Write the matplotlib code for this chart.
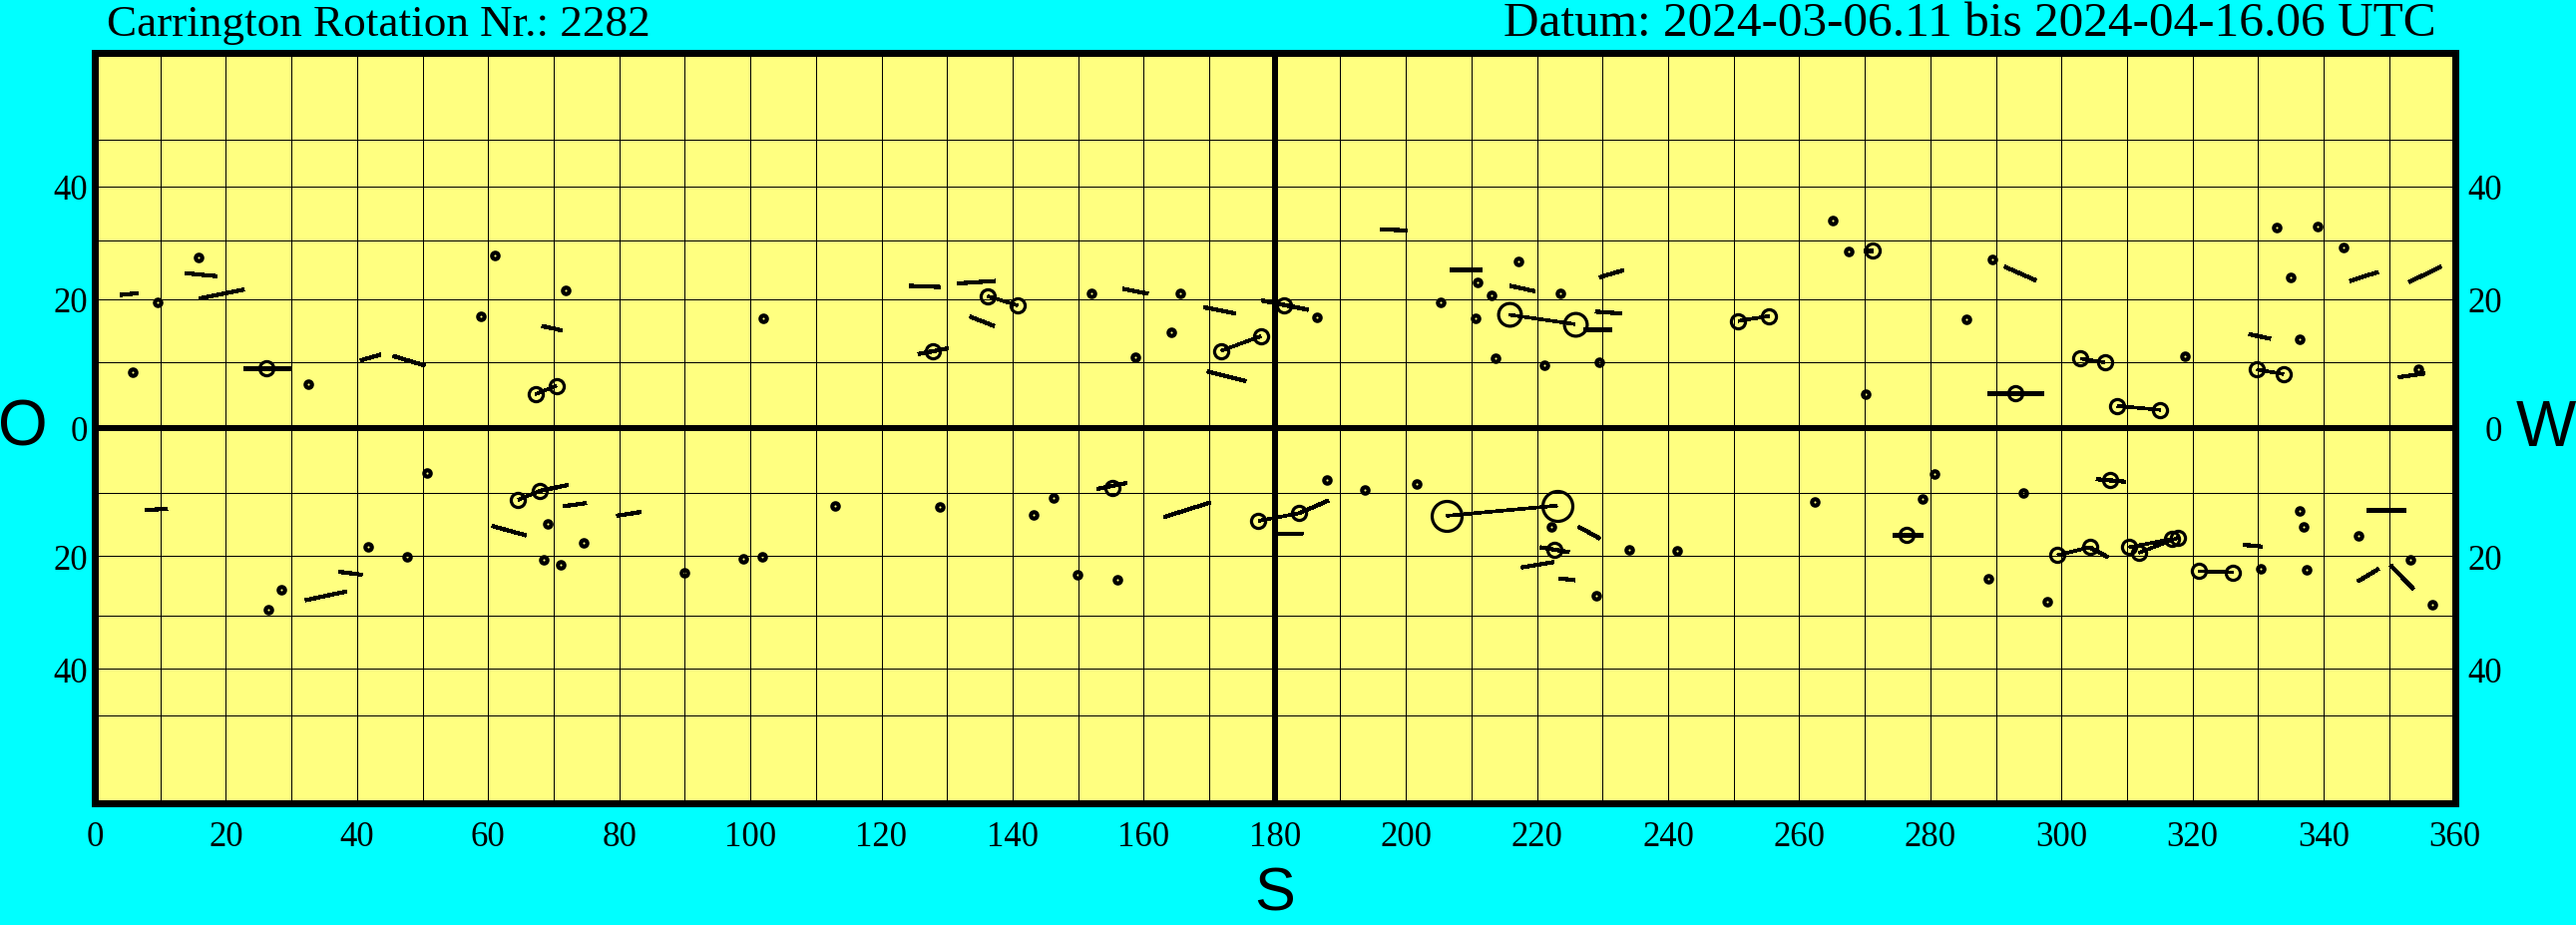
import matplotlib
matplotlib.use("Agg")
import matplotlib.pyplot as plt
import numpy as np

# --- data (Carrington longitude, heliographic latitude) ---
# single small spots
spot_lon = [15.8, 9.6, 58.9, 5.8, 32.5, 50.7, 41.7, 47.6, 28.4, 26.5,
            61.0, 71.9, 102.0, 69.1, 74.6, 68.5, 71.1, 89.9, 98.9, 101.8, 112.9,
            152.1, 165.6, 164.2, 158.8, 128.9, 146.2, 143.2, 149.9, 156.0,
            186.4, 217.2, 210.9, 205.3, 213.1, 210.6, 223.5, 213.7, 221.1, 229.5,
            187.9, 193.8, 201.7, 222.2, 234.1, 229.0,
            265.1, 267.5, 289.5, 285.5, 270.1, 280.7, 278.8, 262.3, 294.2, 241.3,
            288.8, 297.8,
            332.9, 339.0, 343.0, 335.0, 318.8, 336.4, 354.5, 336.3, 336.9, 345.3,
            330.4, 337.4, 353.2, 356.6]
spot_lat = [27.0, 19.5, 17.3, 8.5, 6.7, -6.9, -18.5, -20.1, -25.6, -29.1,
            27.3, 21.4, 16.9, -14.9, -17.9, -20.7, -21.4, -22.7, -20.5, -20.2, -12.0,
            20.9, 20.9, 14.7, 10.8, -12.2, -10.8, -13.5, -23.1, -24.0,
            17.1, 26.2, 22.8, 19.5, 20.7, 17.0, 20.9, 10.6, 9.5, 10.0,
            -8.1, -9.5, -8.6, -15.4, -19.0, -26.6,
            33.5, 28.0, 26.6, 16.7, 5.1, -7.1, -10.9, -11.5, -10.1, -19.1,
            -23.7, -27.6,
            32.2, 32.4, 28.7, 23.6, 10.9, 13.6, 8.9, -12.9, -15.3, -16.7,
            -22.1, -22.3, -20.6, -28.1]

# group extents drawn as thick bars: start lon/lat, end lon/lat
seg_lon0 = [13.8, 3.9, 15.9, 22.6, 40.5, 45.5, 7.7, 37.2, 32.1,
            68.2, 67.9, 71.5, 79.6, 60.6,
            124.3, 131.6, 133.5, 125.6, 156.8, 169.2, 169.7, 152.9, 163.1,
            178.0, 196.1, 206.7, 215.9, 229.5, 227.1, 228.9, 183.7, 180.3,
            226.3, 220.5, 217.6, 223.4,
            269.8, 291.3, 288.7, 274.3,
            328.6, 344.0, 353.0, 351.4, 305.3, 346.6, 304.3, 327.7, 345.2, 350.2]
seg_lat0 = [24.3, 20.7, 20.1, 9.1, 10.3, 11.0, -12.7, -22.6, -27.4,
            15.7, -9.7, -12.1, -13.6, -15.2,
            22.2, 22.6, 17.2, 11.3, 21.7, 18.7, 8.6, -9.4, -13.8,
            19.8, 31.9, 25.0, 22.2, 23.6, 15.2, 18.0, -13.2, -16.4,
            -15.3, -18.6, -21.9, -23.7,
            28.1, 25.4, 5.2, -16.6,
            14.4, 23.0, 22.8, 7.7, -7.9, -12.6, -18.6, -18.2, -24.2, -21.5]
seg_lon1 = [18.6, 6.6, 22.8, 29.8, 43.6, 50.4, 11.1, 40.8, 38.4,
            71.3, 72.2, 75.0, 83.3, 65.8,
            129.0, 137.4, 137.2, 130.2, 160.7, 174.0, 175.6, 157.4, 170.2,
            185.1, 200.2, 211.6, 219.7, 233.2, 231.4, 232.9, 188.2, 184.3,
            229.6, 224.9, 222.6, 225.8,
            271.2, 296.1, 297.2, 278.8,
            331.9, 348.3, 357.9, 355.4, 309.8, 352.5, 307.1, 330.6, 348.4, 353.7]
seg_lat1 = [23.8, 21.0, 21.6, 9.1, 11.2, 9.5, -12.5, -23.1, -25.9,
            15.0, -8.8, -11.6, -13.0, -16.7,
            22.0, 23.0, 15.7, 12.2, 20.9, 17.7, 7.1, -8.5, -11.5,
            18.3, 31.7, 25.0, 21.3, 24.8, 15.2, 17.7, -11.2, -16.5,
            -17.2, -19.4, -21.0, -24.0,
            28.1, 23.1, 5.2, -16.6,
            13.7, 24.5, 25.4, 8.3, -8.3, -12.6, -20.2, -18.5, -22.1, -25.5]

# open rings (spots with penumbra); size class 1 = medium, 2 = large, 3 = very large
ring_lon = [26.2, 67.2, 70.4, 64.6, 67.9,
            136.2, 140.8, 127.9, 171.8, 177.9, 155.2, 177.5,
            181.4, 215.75, 225.8, 183.7, 206.2, 223.1, 222.6,
            271.2, 250.7, 255.4, 292.9, 276.4,
            302.9, 306.6, 329.8, 333.9, 308.5, 315.1, 307.4, 299.4, 304.3,
            310.3, 311.8, 316.8, 317.7, 320.9, 326.2]
ring_lat = [9.1, 5.1, 6.4, -11.1, -9.7,
            20.5, 19.0, 11.8, 11.8, 14.1, -9.2, -14.4,
            19.0, 17.5, 16.0, -13.2, -13.6, -12.0, -19.0,
            28.1, 16.5, 17.3, 5.2, -16.6,
            10.6, 10.0, 8.9, 8.2, 3.3, 2.7, -8.0, -19.9, -18.6,
            -18.6, -19.5, -17.3, -17.1, -22.5, -22.7]
ring_size = [1, 1, 1, 1, 1,
             1, 1, 1, 1, 1, 1, 1,
             1, 2, 2, 1, 3, 3, 1,
             1, 1, 1, 1, 1,
             1, 1, 1, 1, 1, 1, 1, 1, 1,
             1, 1, 1, 1, 1, 1]

# links between leader and follower rings
link_lon0 = [67.2, 64.6, 136.2, 171.8, 177.5, 215.75, 206.2, 250.7,
             302.9, 329.8, 308.5, 299.4, 310.3, 311.8, 320.9]
link_lat0 = [5.1, -11.1, 20.5, 11.8, -14.4, 17.5, -13.6, 16.5,
             10.6, 8.9, 3.3, -19.9, -18.6, -19.5, -22.5]
link_lon1 = [70.4, 67.9, 140.8, 177.9, 183.7, 225.8, 223.1, 255.4,
             306.6, 333.9, 315.1, 304.3, 316.8, 317.7, 326.2]
link_lat1 = [6.4, -9.7, 19.0, 14.1, -13.2, 16.0, -12.0, 17.3,
             10.0, 8.2, 2.7, -18.6, -17.3, -17.1, -22.7]

lon_ticks = list(range(0, 361, 20))
lat_ticks = [-40, -20, 0, 20, 40]
lat_labels = ["40", "20", "0", "20", "40"]

title_left = "Carrington Rotation Nr.: 2282"
title_right = "Datum: 2024-03-06.11 bis 2024-04-16.06 UTC"

# crisp, non-smoothed lines like the original
plt.rcParams["lines.antialiased"] = False
plt.rcParams["patch.antialiased"] = False

# --- figure ---
W, H = 2582, 928
fig = plt.figure(figsize=(W / 100, H / 100), dpi=100, facecolor="#00FFFF")
x0, x1 = 95.0, 2460.5
ytop, ybot = 53.5, 805.5
ax = fig.add_axes([x0 / W, 1 - ybot / H, (x1 - x0) / W, (ybot - ytop) / H])
ax.set_facecolor("#FFFF80")


def fwd(y):
    return np.sin(np.radians(y))


def inv(s):
    return np.degrees(np.arcsin(np.clip(s, -1, 1)))


ax.set_yscale("function", functions=(fwd, inv))
ax.set_xlim(0, 360)
ax.set_ylim(-90, 90)

# grid
for lon in range(10, 360, 10):
    ax.axvline(lon, color="black", lw=0.72 if lon != 180 else 2.9, zorder=1)
for lat in range(-50, 51, 10):
    ax.axhline(lat, color="black", lw=0.72 if lat != 0 else 2.9, zorder=1)

# bars
for a, b, c, d in zip(seg_lon0, seg_lat0, seg_lon1, seg_lat1):
    ax.plot([a, c], [b, d], color="black", lw=2.3, solid_capstyle="butt", zorder=3)
# links
for a, b, c, d in zip(link_lon0, link_lat0, link_lon1, link_lat1):
    ax.plot([a, c], [b, d], color="black", lw=1.9, solid_capstyle="butt", zorder=3)
# small spots
ax.plot(spot_lon, spot_lat, "o", ms=4.6, mfc="none", mec="black", mew=3.0, zorder=4)
# rings
ms_for = {1: 10.2, 2: 16.4, 3: 21.6}
for lo, la, sz in zip(ring_lon, ring_lat, ring_size):
    ax.plot([lo], [la], "o", ms=ms_for[sz], mfc="none", mec="black", mew=2.3, zorder=4)

for sp in ax.spines.values():
    sp.set_linewidth(5.0)
    sp.set_zorder(6)

serif = ["Liberation Serif", "DejaVu Serif"]
sans = ["Liberation Sans", "DejaVu Sans"]

ax.set_xticks(lon_ticks)
ax.set_xticklabels([str(v) for v in lon_ticks], fontsize=25, family=serif)
ax.set_yticks(lat_ticks)
ax.set_yticklabels(lat_labels, fontsize=25, family=serif)
ax.yaxis.set_minor_locator(matplotlib.ticker.NullLocator())
ax.xaxis.set_minor_locator(matplotlib.ticker.NullLocator())
ax.tick_params(axis="x", length=0, pad=12.5)
ax.tick_params(axis="y", length=0, pad=5)

ax2 = ax.twinx()
ax2.set_yscale("function", functions=(fwd, inv))
ax2.set_ylim(-90, 90)
ax2.set_yticks(lat_ticks)
ax2.set_yticklabels(lat_labels, fontsize=25, family=serif)
ax2.yaxis.set_minor_locator(matplotlib.ticker.NullLocator())
ax2.tick_params(axis="y", length=0, pad=34)
for t in ax2.get_yticklabels():
    t.set_horizontalalignment("right")
for sp in ax2.spines.values():
    sp.set_visible(False)

# titles and side letters
fig.text(107 / W, 1 - 36 / H, title_left, fontsize=32.5, family=serif, ha="left", va="baseline")
fig.text(2442 / W, 1 - 36 / H, title_right, fontsize=35.5, family=serif, ha="right", va="baseline")
fig.text(23 / W, 1 - 430 / H, "O", fontsize=46, family=sans, ha="center", va="center")
fig.text(2552 / W, 1 - 430 / H, "W", fontsize=46, family=sans, ha="center", va="center")
fig.text(1277.5 / W, 1 - 913 / H, "S", fontsize=44, family=sans, ha="center", va="baseline")

fig.savefig("out.png", dpi=100, facecolor=fig.get_facecolor())
